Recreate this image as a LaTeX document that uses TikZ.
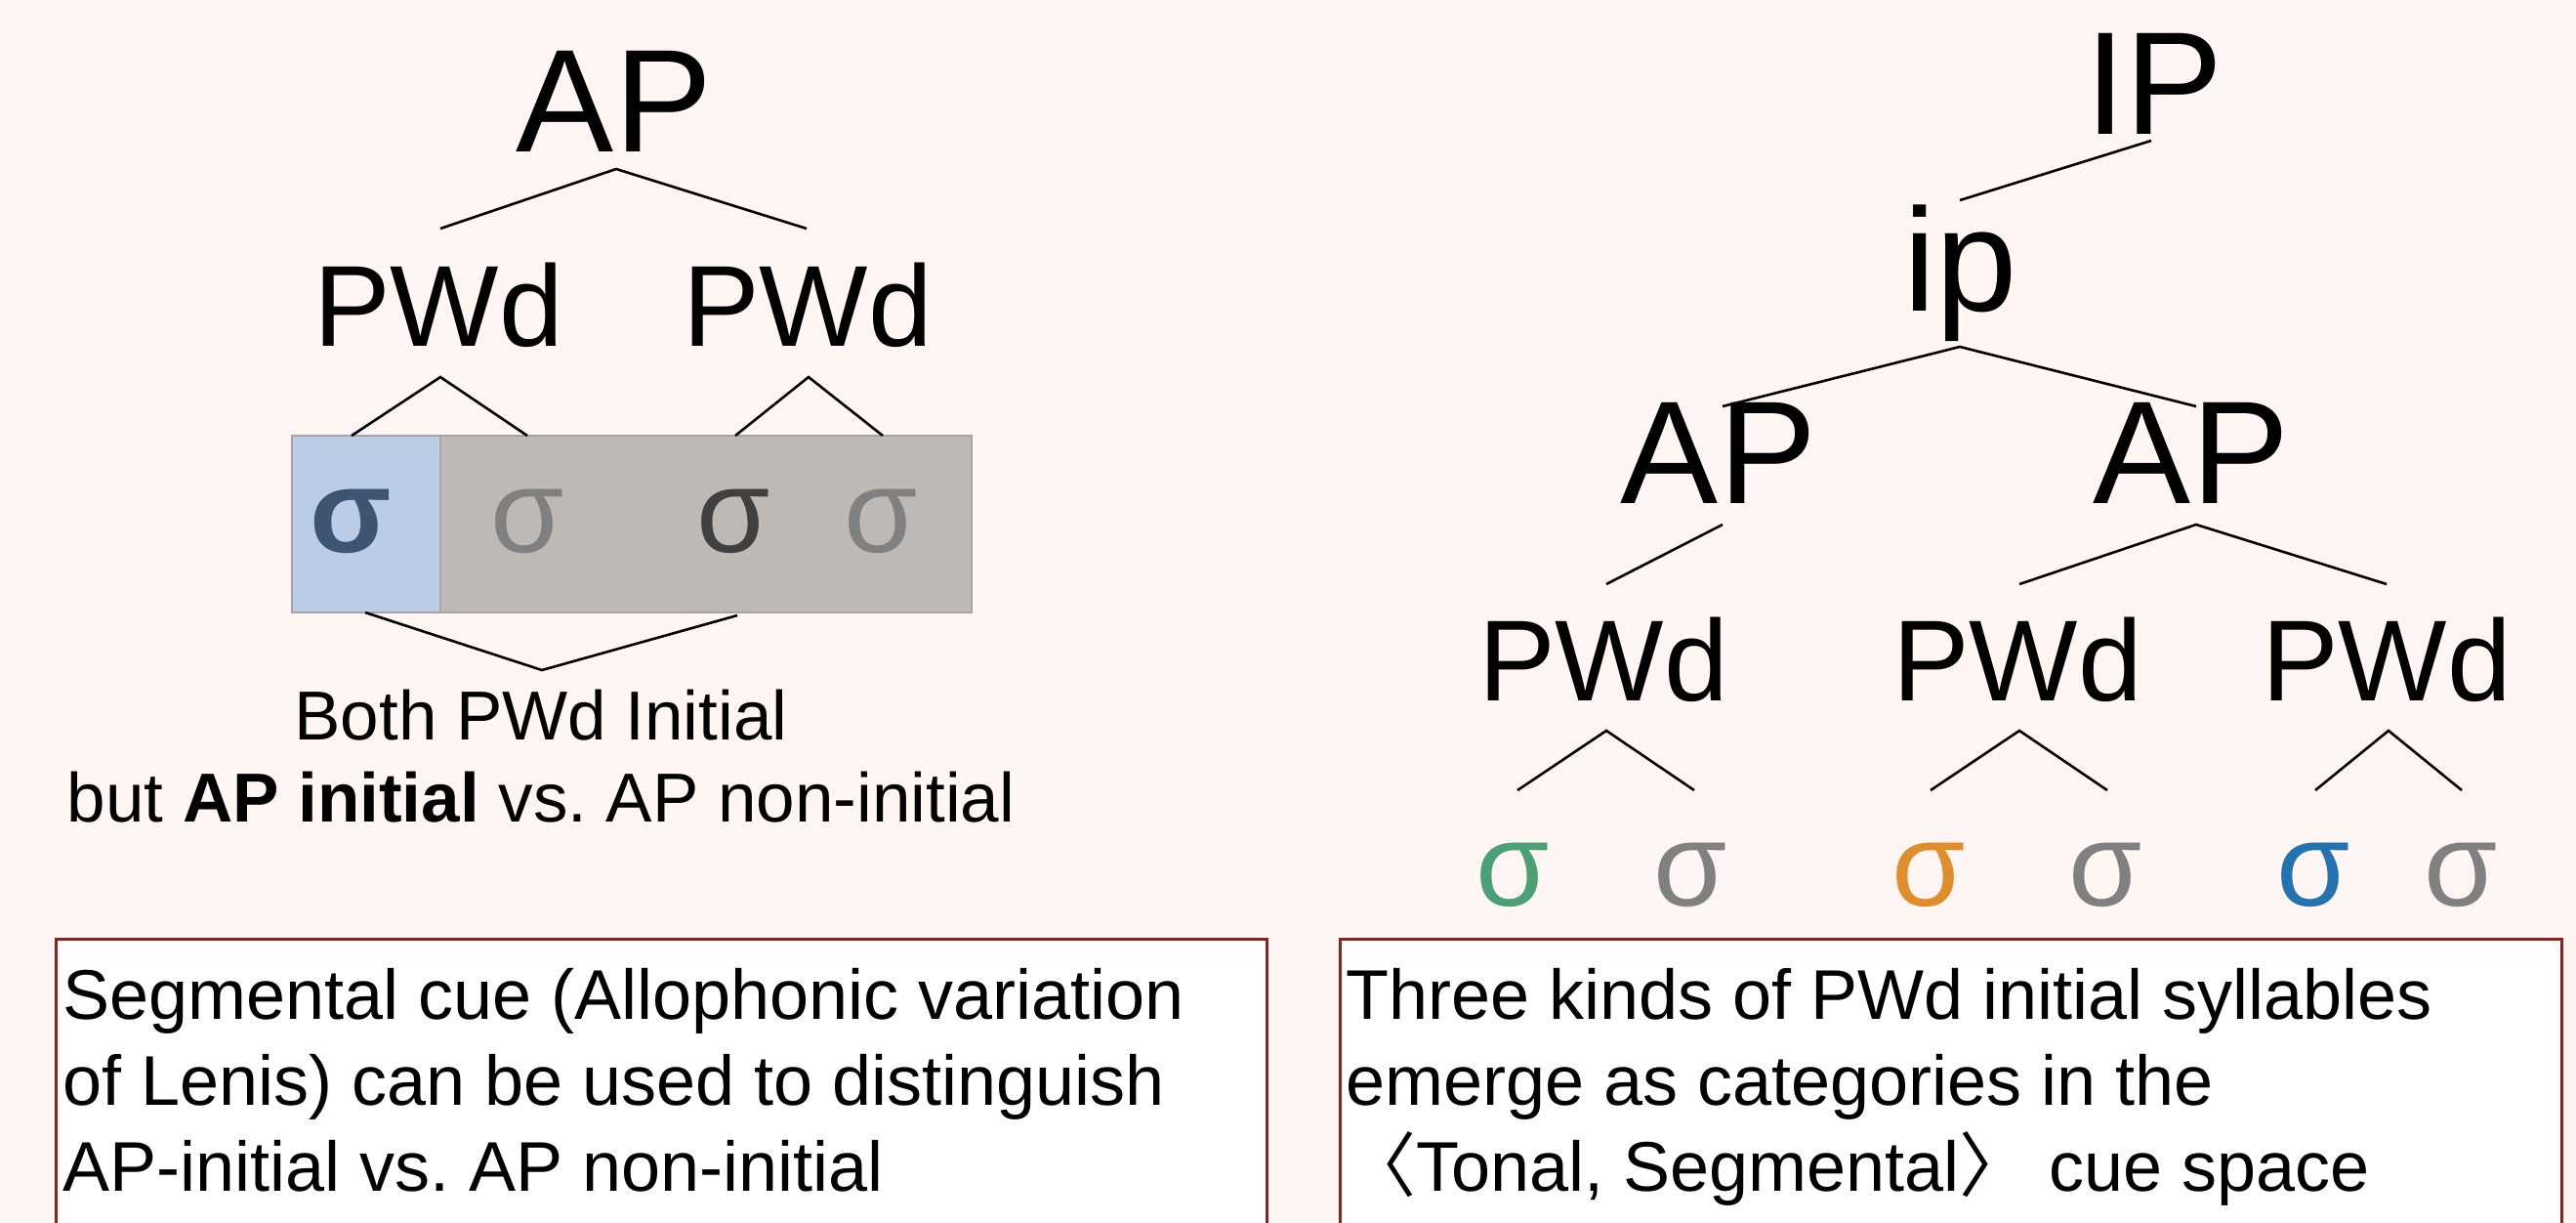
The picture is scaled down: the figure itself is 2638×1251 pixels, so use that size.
\documentclass[tikz,border=0pt]{standalone}
\usepackage{fontspec}
\setmainfont{Liberation Sans}
\newfontfamily\cjkfont{Noto Sans CJK SC}
\usetikzlibrary{calc}
\frenchspacing
\definecolor{bg}{RGB}{255,245,242}
\definecolor{boxred}{RGB}{135,35,35}
\definecolor{blueshade}{RGB}{188,204,230}
\definecolor{grayshade}{RGB}{190,185,181}
\definecolor{shadeedge}{RGB}{165,165,168}
\definecolor{sigblue}{RGB}{63,83,114}
\definecolor{siggray}{RGB}{128,128,128}
\definecolor{sigdark}{RGB}{64,64,64}
\definecolor{siggreen}{RGB}{74,161,117}
\definecolor{sigorange}{RGB}{224,142,43}
\definecolor{sigbluebright}{RGB}{36,115,177}
\tikzset{
  big/.style={font=\fontsize{150}{180}\selectfont, inner sep=0pt, anchor=base},
  pwd/.style={font=\fontsize{118}{140}\selectfont, inner sep=0pt, anchor=base},
  syl/.style={font=\fontsize{122}{140}\selectfont, inner sep=0pt, anchor=base},
  branch/.style={line width=2.6pt, black, line cap=butt, line join=miter},
  caption/.style={font=\fontsize{71}{84}\selectfont, inner sep=0pt, anchor=base},
  boxtext/.style={font=\fontsize{72}{88}\selectfont, inner sep=0pt, anchor=base west},
  notebox/.style={draw=boxred, line width=3pt, fill=white, inner sep=0pt},
}
\begin{document}
\frenchspacing
\begin{tikzpicture}[x=1pt,y=-1pt]
\useasboundingbox (0,0) rectangle (2638,1251);
\fill[bg] (0,0) rectangle (2638,1251);

% ---------------- left tree ----------------
\node[big] (lAP) at (629,155) {AP};
\node[pwd] (lPWa) at (449,354) {PWd};
\node[pwd] (lPWb) at (827,354) {PWd};

\node[draw=shadeedge, line width=2pt, fill=grayshade, minimum width=544pt, minimum height=181pt, inner sep=0pt] (grayrow) at (723,536.5) {};
\node[draw=shadeedge, line width=2pt, fill=blueshade, minimum width=152pt, minimum height=181pt, inner sep=0pt] (bluecell) at (375,536.5) {};

\node[syl, text=sigblue] (ls1) at (359,565) {\textbf{σ}};
\node[syl, text=siggray] (ls2) at (540,565) {σ};
\node[syl, text=sigdark] (ls3) at (751,565) {σ};
\node[syl, text=siggray] (ls4) at (902,565) {σ};

\node[caption] (both) at (554,757) {Both PWd Initial};
\node[caption] (butline) at (554,841) {but \textbf{AP initial} vs. AP non-initial};

\draw[branch] ($(lPWa.base)+(2,-120)$) -- ($(lAP.base)+(2,18)$) -- ($(lPWb.base)+(-1,-120)$);
\draw[branch] ($(ls1.base)+(1,-119)$) -- ($(lPWa.base)+(2,32)$) -- ($(ls2.base)+(0,-119)$);
\draw[branch] ($(ls3.base)+(2,-119)$) -- ($(lPWb.base)+(1,32)$) -- ($(ls4.base)+(2,-119)$);
\draw[branch] ($(ls1.base)+(15,62)$) -- ($(both.base)+(1,-71)$) -- ($(ls3.base)+(4,65)$);

% ---------------- right tree ----------------
\node[big] (rIP) at (2206,137) {IP};
\node[big] (rip) at (2008,318) {ip};
\node[big] (rAPa) at (1760,515) {AP};
\node[big] (rAPb) at (2244,515) {AP};
\node[pwd] (rPWa) at (1642,717) {PWd};
\node[pwd] (rPWb) at (2066,717) {PWd};
\node[pwd] (rPWc) at (2444,717) {PWd};

\node[syl, text=siggreen] (rs1) at (1549,927) {σ};
\node[syl, text=siggray] (rs2) at (1731,927) {σ};
\node[syl, text=sigorange] (rs3) at (1975,927) {σ};
\node[syl, text=siggray] (rs4) at (2156,927) {σ};
\node[syl, text=sigbluebright] (rs5) at (2369,927) {σ};
\node[syl, text=siggray] (rs6) at (2520,927) {σ};

\draw[branch] ($(rIP.base)+(-3,7)$) -- ($(rip.base)+(-1,-113)$);
\draw[branch] ($(rAPa.base)+(4,-99)$) -- ($(rip.base)+(-1,37)$) -- ($(rAPb.base)+(5,-99)$);
\draw[branch] ($(rAPa.base)+(4,22)$) -- ($(rPWa.base)+(3,-119)$);
\draw[branch] ($(rPWb.base)+(2,-119)$) -- ($(rAPb.base)+(5,22)$) -- ($(rPWc.base)+(0,-119)$);
\draw[branch] ($(rs1.base)+(5,-118)$) -- ($(rPWa.base)+(3,31)$) -- ($(rs2.base)+(4,-118)$);
\draw[branch] ($(rs3.base)+(2,-118)$) -- ($(rPWb.base)+(2,31)$) -- ($(rs4.base)+(2,-118)$);
\draw[branch] ($(rs5.base)+(2,-118)$) -- ($(rPWc.base)+(2,31)$) -- ($(rs6.base)+(1,-118)$);

% ---------------- note boxes ----------------
\node[notebox, minimum width=1240pt, minimum height=300pt] (leftnote) at (677,1111) {};
\node[notebox, minimum width=1251pt, minimum height=300pt] (rightnote) at (1997.5,1111) {};

\node[boxtext] (ln1) at (64,1043) {Segmental cue (Allophonic variation};
\node[boxtext] (ln2) at (64,1131) {of Lenis) can be used to distinguish};
\node[boxtext] (ln3) at (64,1219) {AP-initial vs. AP non-initial};

\node[boxtext] (rn1) at (1378,1043) {Three kinds of PWd initial syllables};
\node[boxtext] (rn2) at (1378,1131) {emerge as categories in the};
\node[boxtext] (rn3) at (1378,1219) {{\cjkfont 〈}Tonal, Segmental{\cjkfont 〉}\ cue space};
\end{tikzpicture}
\end{document}
